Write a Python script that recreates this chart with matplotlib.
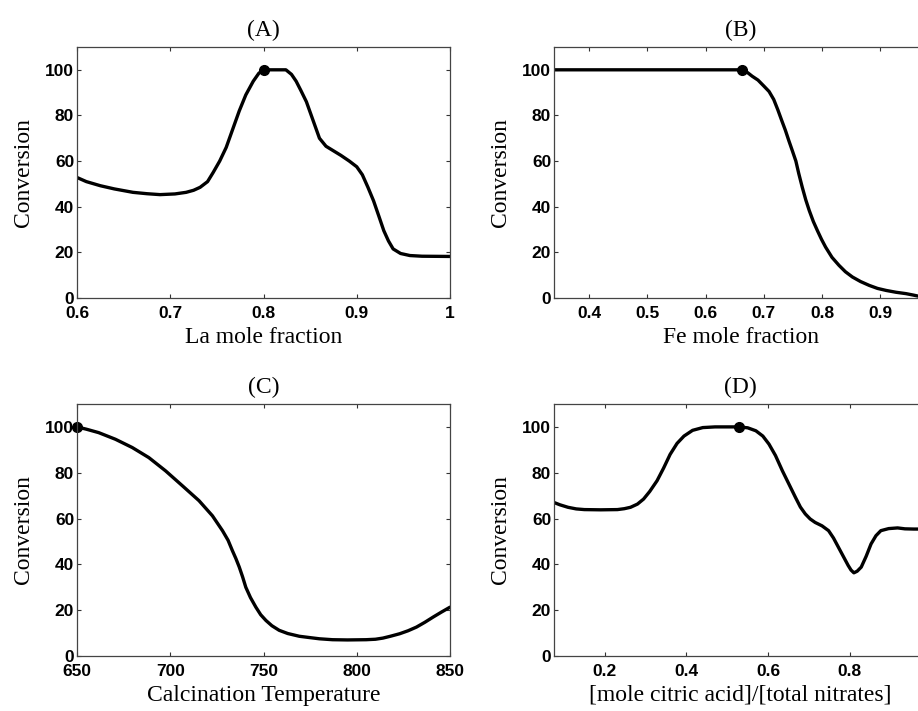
import matplotlib
matplotlib.use("Agg")
import matplotlib.pyplot as plt
from matplotlib.ticker import FuncFormatter

# (A) La mole fraction
la_x = [0.6, 0.61, 0.625, 0.64, 0.66, 0.675, 0.689, 0.705, 0.717, 0.725, 0.732,
        0.74, 0.746, 0.753, 0.76, 0.767, 0.774, 0.781, 0.789, 0.795, 0.8, 0.824,
        0.83, 0.835, 0.84, 0.846, 0.853, 0.86, 0.867, 0.875, 0.883, 0.892, 0.9,
        0.906, 0.912, 0.918, 0.924, 0.929, 0.934, 0.939, 0.947, 0.957, 0.97, 1.0]
la_y = [52.8, 51, 49.2, 47.8, 46.3, 45.7, 45.3, 45.6, 46.3, 47.2, 48.5,
        51, 55, 60, 66, 74, 82, 89, 95, 98.5, 100, 100,
        98, 95, 91, 86, 78, 70, 66.5, 64.5, 62.5, 60, 57.5,
        54, 48.5, 42.6, 35.5, 29.5, 25, 21.5, 19.5, 18.6, 18.3, 18.2]
la_opt = (0.8, 100)

# (B) Fe mole fraction
fe_x = [0.34, 0.662, 0.672, 0.68, 0.69, 0.70, 0.709, 0.717, 0.724, 0.731, 0.737,
        0.743, 0.749, 0.755, 0.76, 0.766, 0.772, 0.778, 0.785, 0.792, 0.799, 0.806,
        0.817, 0.829, 0.84, 0.852, 0.866, 0.881, 0.895, 0.91, 0.927, 0.944, 0.956,
        0.967, 0.98]
fe_y = [100, 100, 98.8, 97.2, 95.5, 92.9, 90.5, 87, 82.5, 77.6, 73.5,
        68.9, 64.5, 60, 54.5, 48.5, 43, 38.3, 33.5, 29.5, 25.7, 22.3,
        17.8, 14.3, 11.5, 9.2, 7.2, 5.5, 4.2, 3.3, 2.5, 1.9, 1.3,
        0.7, 0.4]
fe_opt = (0.662, 100)

# (C) Calcination temperature
ct_x = [650, 655, 661.6, 670.6, 679.6, 688.5, 697.5, 706.5, 715.4, 722.6, 728,
        731, 733.3, 735.2, 737, 738.8, 740.5, 743, 745.9, 748.5, 751.3, 754.5,
        758.4, 763, 769.2, 775, 780, 787, 795, 805, 810, 814, 818, 823, 827.5,
        832, 836.5, 841, 845.5, 850]
ct_y = [100, 99, 97.5, 94.6, 91, 86.6, 80.8, 74.3, 67.8, 61.2, 54.7,
        50.5, 46, 42.5, 38.8, 34.5, 30, 25.5, 21.3, 18, 15.5, 13.2,
        11.2, 9.8, 8.6, 8, 7.5, 7.1, 7.0, 7.1, 7.3, 7.8, 8.6, 9.7, 11,
        12.6, 14.7, 17, 19.2, 21.3]
ct_opt = (650, 100)

# (D) citric acid / nitrates
ca_x = [0.0757, 0.09, 0.11, 0.13, 0.15, 0.19, 0.231, 0.248, 0.263, 0.28, 0.295,
        0.31, 0.328, 0.344, 0.36, 0.377, 0.394, 0.415, 0.44, 0.47, 0.528, 0.55,
        0.57, 0.587, 0.602, 0.618, 0.635, 0.651, 0.667, 0.679, 0.691, 0.703, 0.715,
        0.732, 0.748, 0.76, 0.772, 0.784, 0.796, 0.803, 0.81, 0.818, 0.828, 0.84,
        0.852, 0.864, 0.876, 0.895, 0.917, 0.935, 0.957, 0.99]
ca_y = [67, 66, 64.9, 64.2, 63.9, 63.8, 63.9, 64.3, 64.9, 66.3, 68.5,
        71.8, 76.5, 82, 88, 92.8, 96, 98.5, 99.7, 100, 100, 99.6,
        98.3, 96, 92.5, 87.5, 80.8, 75, 69.2, 65, 62, 59.8, 58.3,
        56.8, 54.7, 51.5, 47.5, 43.5, 39.5, 37.5, 36.3, 37, 38.8, 43.5,
        48.9, 52.5, 54.7, 55.6, 55.9, 55.5, 55.4, 55.4]
ca_opt = (0.528, 100)

panels = [
    ("(A)", "La mole fraction", la_x, la_y, la_opt, (0.6, 1.0), [0.6, 0.7, 0.8, 0.9, 1.0]),
    ("(B)", "Fe mole fraction", fe_x, fe_y, fe_opt, (0.34, 0.98), [0.4, 0.5, 0.6, 0.7, 0.8, 0.9]),
    ("(C)", "Calcination Temperature", ct_x, ct_y, ct_opt, (650, 850), [650, 700, 750, 800, 850]),
    ("(D)", "[mole citric acid]/[total nitrates]", ca_x, ca_y, ca_opt, (0.0757, 0.989), [0.2, 0.4, 0.6, 0.8]),
]

rects = [
    [0.0839, 0.5809, 0.4063, 0.3530],
    [0.6035, 0.5809, 0.4063, 0.3530],
    [0.0839, 0.0774, 0.4063, 0.3544],
    [0.6035, 0.0774, 0.4063, 0.3544],
]

serif = "Liberation Serif"
sans = "Liberation Sans"

def fmt(v, pos):
    return "%g" % v

fig = plt.figure(figsize=(9.18, 7.11), dpi=100)
for (title, xlabel, x, y, opt, xlim, xticks), r in zip(panels, rects):
    ax = fig.add_axes(r)
    ax.plot(x, y, color="black", lw=2.4, solid_joinstyle="round", solid_capstyle="round")
    ax.plot([opt[0]], [opt[1]], "o", color="black", ms=7, clip_on=False)
    ax.set_xlim(*xlim)
    ax.set_ylim(0, 110)
    ax.set_xticks(xticks)
    ax.set_yticks([0, 20, 40, 60, 80, 100])
    ax.xaxis.set_major_formatter(FuncFormatter(fmt))
    ax.tick_params(direction="in", length=3, width=0.8, top=True, right=True,
                   labelsize=12.5, colors="#333333", labelcolor="black")
    ax.tick_params(axis="x", pad=6)
    ax.tick_params(axis="y", pad=2)
    for lab in ax.get_xticklabels() + ax.get_yticklabels():
        lab.set_fontfamily(sans)
        lab.set_fontweight("bold")
    for s in ax.spines.values():
        s.set_linewidth(0.9)
        s.set_color("#444444")
    ax.set_title(title, fontfamily=serif, fontsize=17, pad=8)
    ax.set_xlabel(xlabel, fontfamily=serif, fontsize=17, labelpad=4)
    ax.set_ylabel("Conversion", fontfamily=serif, fontsize=17, labelpad=8)

fig.savefig("out.png", dpi=100)
